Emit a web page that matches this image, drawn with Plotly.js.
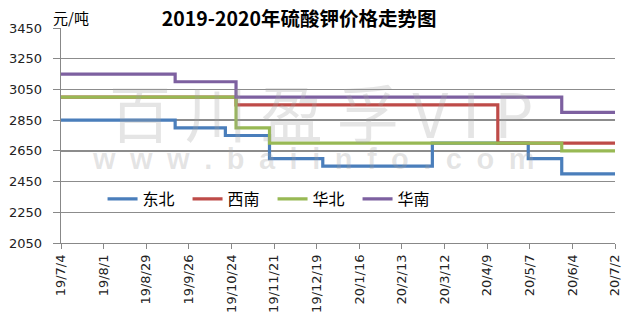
<!DOCTYPE html>
<html>
<head>
<meta charset="utf-8">
<script src="https://cdn.plot.ly/plotly-3.0.1.min.js"></script>
<style>html,body{margin:0;padding:0;background:#fff;}#chart{width:630px;height:323px;}</style>
</head>
<body>
<div id="chart"></div>
<script>
// Series names
var seriesNames = ['东北', '西南', '华北', '华南'];
var seriesColors = ['#4A7EBB', '#BE4B48', '#98B954', '#7D60A0'];

// Step change dates and values (value holds from each date until the next)
var dbDates = ['2019-07-04','2019-09-17','2019-10-20','2019-11-18','2019-12-23','2020-03-04','2020-05-06','2020-05-28','2020-07-02'];
var dbVals  = [2850, 2800, 2750, 2600, 2550, 2700, 2600, 2500, 2500];

var xnDates = ['2019-07-04','2019-10-27','2020-04-16','2020-07-02'];
var xnVals  = [3000, 2950, 2700, 2700];

var hbDates = ['2019-07-04','2019-10-27','2019-11-18','2020-05-28','2020-07-02'];
var hbVals  = [3000, 2800, 2700, 2650, 2650];

var hnDates = ['2019-07-04','2019-09-17','2019-10-27','2020-05-28','2020-07-02'];
var hnVals  = [3150, 3100, 3000, 2900, 2900];

// Axis ticks
var xTickVals = ['2019-07-04','2019-08-01','2019-08-29','2019-09-26','2019-10-24','2019-11-21','2019-12-19','2020-01-16','2020-02-13','2020-03-12','2020-04-09','2020-05-07','2020-06-04','2020-07-02'];
var xTickText = ['19/7/4','19/8/1','19/8/29','19/9/26','19/10/24','19/11/21','19/12/19','20/1/16','20/2/13','20/3/12','20/4/9','20/5/7','20/6/4','20/7/2'];
var yTickVals = [2050, 2250, 2450, 2650, 2850, 3050, 3250, 3450];

var allDates = [dbDates, xnDates, hbDates, hnDates];
var allVals = [dbVals, xnVals, hbVals, hnVals];

var traces = allDates.map(function(d, i) {
  return {
    x: d, y: allVals[i], name: seriesNames[i], type: 'scatter', mode: 'lines',
    line: {color: seriesColors[i], width: 3.2, shape: 'hv'}
  };
});

var layout = {
  width: 630, height: 323,
  margin: {l: 61, r: 15, t: 28, b: 80},
  paper_bgcolor: '#fff', plot_bgcolor: '#fff',
  showlegend: true,
  title: {
    text: '<b>2019-2020年硫酸钾价格走势图</b>',
    font: {family: 'Noto Sans CJK SC', size: 19.5, color: '#000'},
    x: 0.43, xref: 'paper', xanchor: 'center',
    y: 0.94, yref: 'container', yanchor: 'middle'
  },
  xaxis: {
    type: 'date',
    range: ['2019-07-04', '2020-07-02'],
    tickmode: 'array', tickvals: xTickVals, ticktext: xTickText,
    tickangle: -90,
    tickfont: {family: 'DejaVu Sans', size: 13, color: '#222'},
    ticks: 'outside', ticklen: 5, tickcolor: '#888', tickwidth: 1,
    showgrid: false, showline: true, linecolor: '#888', linewidth: 1.3,
    zeroline: false, fixedrange: true
  },
  yaxis: {
    range: [2050, 3450],
    tickmode: 'array', tickvals: yTickVals,
    tickfont: {family: 'DejaVu Sans', size: 13, color: '#222'},
    ticks: 'outside', ticklen: 7, tickcolor: '#888', tickwidth: 1,
    ticklabelstandoff: 8,
    showgrid: true, gridcolor: '#8c8c8c', gridwidth: 1.3,
    showline: true, linecolor: '#888', linewidth: 1.3,
    zeroline: false, fixedrange: true
  },
  legend: {
    orientation: 'h',
    x: 0.075, xanchor: 'left',
    y: 0.205, yanchor: 'middle',
    bgcolor: 'rgba(0,0,0,0)',
    font: {family: 'Noto Sans CJK SC', size: 16, color: '#000'},
    entrywidth: 40, entrywidthmode: 'pixels'
  },
  shapes: [{
    type: 'line', xref: 'paper', x0: 0.003, x1: 1, yref: 'y', y0: 3450, y1: 3450,
    line: {color: '#fff', width: 3}, layer: 'between'
  }],
  annotations: [
    {text: '元/吨', xref: 'paper', yref: 'paper', x: -0.018, y: 1.047, xanchor: 'left', yanchor: 'middle',
     showarrow: false, font: {family: 'Noto Sans CJK SC', size: 15, color: '#000'}},
    {text: '百 川 盈 孚 V I P', xref: 'paper', yref: 'paper', x: 0.47, y: 0.615, xanchor: 'center', yanchor: 'middle',
     showarrow: false, font: {family: 'Noto Sans CJK SC', size: 62, color: 'rgba(160,160,160,0.28)'}},
    {text: '<b>w&#8194;w&#8194;w&#8194;.&#8194;b&#8194;a&#8194;i&#8194;i&#8194;n&#8194;f&#8194;o&#8194;.&#8194;c&#8194;o&#8194;m</b>', xref: 'paper', yref: 'paper', x: 0.455, y: 0.39, xanchor: 'center', yanchor: 'middle',
     showarrow: false, font: {family: 'Liberation Sans', size: 29, color: 'rgba(160,160,160,0.28)'}}
  ]
};

Plotly.newPlot('chart', traces, layout, {staticPlot: true, displayModeBar: false});
</script>
</body>
</html>
